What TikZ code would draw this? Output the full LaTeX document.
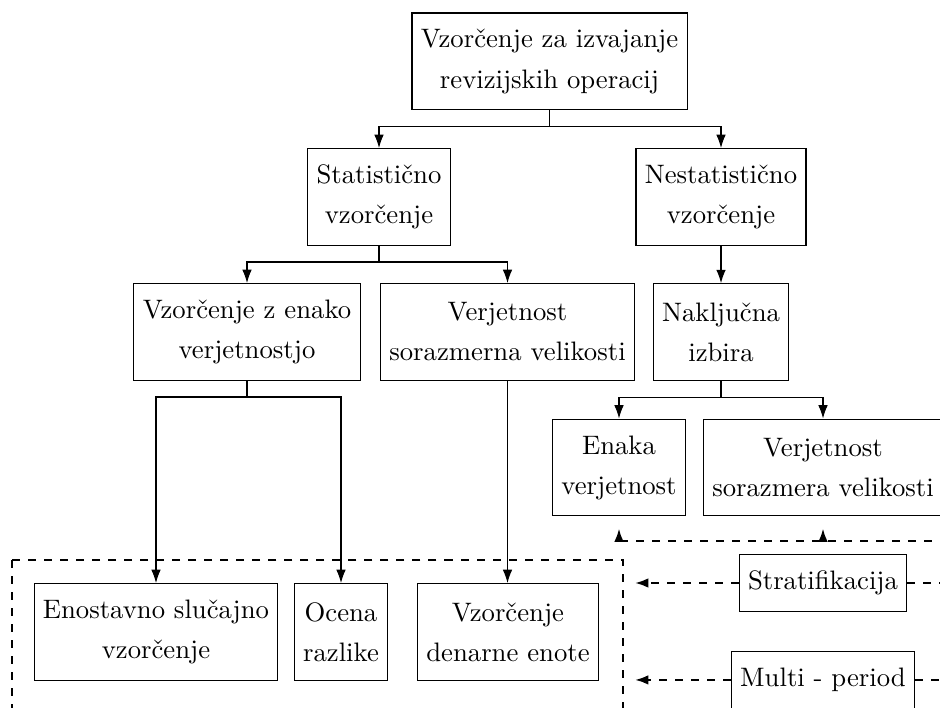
\documentclass[tikz,border=0pt]{standalone}
\usepackage{tikz}
\usepackage{amsmath}
\usetikzlibrary{arrows.meta, positioning, calc}
\tikzset{
  method/.style={rectangle,draw=black,align=center,font=\linespread{1.25}\selectfont,inner xsep=3.3pt,inner ysep=6pt,minimum height=36.3pt},
  factor/.style={method,minimum height=21.6pt},
  link/.style={-{Latex[length=5pt,width=3.6pt]},black},
  dashlink/.style={thick,dashed,-{Latex[length=5pt,width=3.6pt]},black,shorten >=4.5pt},
  groupframe/.style={thick,dashed,black},
}

\begin{document}
\begin{tikzpicture}[x=0.3745pt,y=-0.3745pt]
	    \path[use as bounding box] (0,0) rectangle (940,708);
	    \clip (0,0) rectangle (940,708);
	    \node[method] (A) at (549.5,61.5) {Vzorčenje za izvajanje\\revizijskih operacij};
	    \node[method] (B) at (379,197) {Statistično\\vzorčenje};
	    \node[method] (C) at (721,197) {Nestatistično\\vzorčenje};
	    \node[method] (D) at (247,332) {Vzorčenje z enako\\verjetnostjo};
	    \node[method] (E) at (507.5,332) {Verjetnost\\sorazmerna velikosti};
	    \node[method,below=13.9pt of C] (F) {Naključna\\izbira};
	    \node[method] (G) at (619,467.5) {Enaka\\verjetnost};
	    \node[method] (H) at (823,467.5) {Verjetnost\\sorazmera velikosti};
	    \node[method] (I) at (156,632) {Enostavno slučajno\\vzorčenje};
	    \node[method] (J) at (341,632) {Ocena\\razlike};
	    \node[method] (K) at (508,632) {Vzorčenje\\denarne enote};
	    \node[factor] (S) at (823,583) {Stratifikacija};
	    \node[factor,below=14.3pt of S] (M) {Multi - period};
	    % dashed frame round the bottom row, open below
	    \coordinate (P) at (12,560);
	    \coordinate (Q) at (623,730);
	    \coordinate (R) at (980,541);
	    \draw[groupframe] (P) rectangle (Q);
	    \draw[link] (A.south) -- ++(0,16) -| (B);
	    \draw[link] (A.south) -- ++(0,16) -| (C);
	    \draw[link] (B.south) -- ++(0,16) -| (D);
	    \draw[link] (B.south) -- ++(0,16) -| (E);
	    \draw[link] (C) -- (F);
	    \draw[link] (D.south) -- ++(0,16) -| (I);
	    \draw[link] (D.south) -- ++(0,16) -| (J);
	    \draw[link] (E) -- (E |- K.north);
	    \draw[link] (F.south) -- ++(0,16) -| (G);
	    \draw[link] (F.south) -- ++(0,16) -| (H);
	    \draw[dashlink] (R) -| (G);
	    \draw[dashlink] (H.south |- R) -- (H);
	    \draw[dashlink] (S.west) -- (S.west -| Q);
	    \draw[dashlink] (M.west) -- (M.west -| Q);
	    \draw[groupframe] (S.east) -- (S.east -| R);
	    \draw[groupframe] (M.east) -- (M.east -| R);
\end{tikzpicture}
\end{document}
